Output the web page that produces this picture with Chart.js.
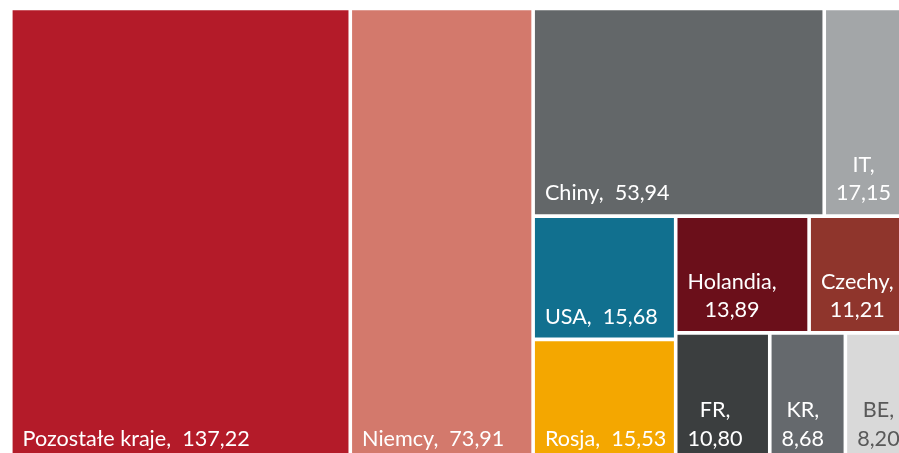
<!DOCTYPE html>
<html>
<head>
<meta charset="utf-8">
<script src="https://cdn.jsdelivr.net/npm/chart.js@4.4.1/dist/chart.umd.min.js"></script>
<style>
  html, body { margin: 0; padding: 0; background: #ffffff; overflow: hidden; }
  #wrap { position: relative; width: 930px; height: 475px; }
</style>
</head>
<body>
<div id="wrap"><canvas id="c"></canvas></div>
<script>
// ---- data ----
const countries = ['Pozostałe kraje', 'Niemcy', 'Chiny', 'IT', 'USA', 'Rosja', 'Holandia', 'Czechy', 'FR', 'KR', 'BE'];
const values = [137.22, 73.91, 53.94, 17.15, 15.68, 15.53, 13.89, 11.21, 10.80, 8.68, 8.20];
// how many consecutive cells form each strip of the treemap
const stripSizes = [1, 1, 2, 2, 2, 1, 1, 1];

// ---- styles ----
const cellColors = ['#B41B29', '#D3796C', '#636769', '#A3A6A8', '#11708F', '#F4A700', '#6B0F1A', '#8F352C', '#3B3E3F', '#65696D', '#D9D9D9'];
const textColors = ['#FFFFFF', '#FFFFFF', '#FFFFFF', '#FFFFFF', '#FFFFFF', '#FFFFFF', '#FFFFFF', '#FFFFFF', '#FFFFFF', '#FFFFFF', '#595959'];

function fmt(v) { return v.toFixed(2).replace('.', ','); }

// strip treemap layout in normalised [0,1] data units; aspect = pixel width / pixel height
function stripLayout(vals, strips, aspect) {
  let x = 0, y = 0, w = 1, h = 1, idx = 0;
  let remaining = vals.reduce((a, b) => a + b, 0);
  const rects = [];
  for (const n of strips) {
    const items = vals.slice(idx, idx + n);
    const s = items.reduce((a, b) => a + b, 0);
    const frac = s / remaining;
    if (w * aspect >= h) {
      const cw = w * frac; let cy = y;
      items.forEach(v => { const ch = h * v / s; rects.push({ x0: x, x1: x + cw, y0: cy, y1: cy + ch }); cy += ch; });
      x += cw; w -= cw;
    } else {
      const rh = h * frac; let cx = x;
      items.forEach(v => { const cw = w * v / s; rects.push({ x0: cx, x1: cx + cw, y0: y, y1: y + rh }); cx += cw; });
      y += rh; h -= rh;
    }
    remaining -= s; idx += n;
  }
  return rects;
}

class StripTreemapController extends Chart.DatasetController {
  update(mode) {
    const meta = this._cachedMeta;
    this.updateElements(meta.data, 0, meta.data.length, mode);
  }
  updateElements(elements, start, count, mode) {
    const meta = this._cachedMeta;
    const xs = meta.xScale, ys = meta.yScale;
    const aspect = Math.abs(xs.getPixelForValue(1) - xs.getPixelForValue(0)) /
                   Math.abs(ys.getPixelForValue(1) - ys.getPixelForValue(0));
    const rects = stripLayout(this.getDataset().data, stripSizes, aspect);
    for (let i = start; i < start + count; i++) {
      const r = rects[i];
      const left = xs.getPixelForValue(r.x0), right = xs.getPixelForValue(r.x1);
      const top = ys.getPixelForValue(r.y0), bottom = ys.getPixelForValue(r.y1);
      this.updateElement(elements[i], i, {
        x: (left + right) / 2, y: top, base: bottom, width: right - left, height: bottom - top,
        horizontal: false, inflateAmount: 0, borderSkipped: {}, enableBorderRadius: true,
        options: this.resolveDataElementOptions(i, mode)
      }, mode);
    }
  }
}
StripTreemapController.id = 'striptreemap';
StripTreemapController.defaults = { datasetElementType: false, dataElementType: 'bar' };
Chart.register(StripTreemapController);

const FONT = '21.6px Lato';
const PAD_X = 10, PAD_B = 14, LINE = 28.5;

const labelPlugin = {
  id: 'cellLabels',
  afterDatasetsDraw(chart) {
    const ctx = chart.ctx;
    const meta = chart.getDatasetMeta(0);
    const bw = chart.data.datasets[0].borderWidth;
    ctx.save();
    ctx.font = FONT;
    ctx.textBaseline = 'alphabetic';
    ctx.textAlign = 'left';
    meta.data.forEach((el, i) => {
      const p = el.getProps(['x', 'y', 'base', 'width']);
      const left = p.x - p.width / 2 + bw;
      const cellW = p.width - 2 * bw;
      const bottom = Math.max(p.y, p.base) - bw;
      const full = countries[i] + ',  ' + fmt(values[i]);
      let lines = [full];
      if (ctx.measureText(full).width + 5 > cellW) lines = [countries[i] + ',', fmt(values[i])];
      const widths = lines.map(t => ctx.measureText(t).width);
      const bwid = Math.max(...widths);
      ctx.fillStyle = textColors[i];
      lines.forEach((t, k) => {
        const yy = bottom - PAD_B - (lines.length - 1 - k) * LINE;
        ctx.fillText(t, left + PAD_X + (bwid - widths[k]) / 2, yy);
      });
    });
    ctx.restore();
  }
};

new Chart(document.getElementById('c'), {
  type: 'striptreemap',
  data: {
    datasets: [{
      data: values,
      backgroundColor: cellColors,
      borderColor: '#FFFFFF',
      borderWidth: 1.8,
      borderSkipped: false,
      borderRadius: 0
    }]
  },
  options: {
    responsive: true,
    maintainAspectRatio: false,
    animation: false,
    events: [],
    layout: { padding: { left: 10.8, top: 8.5, right: 13.2, bottom: 13.5 } },
    scales: {
      x: { type: 'linear', min: 0, max: 1, display: false },
      y: { type: 'linear', min: 0, max: 1, reverse: true, display: false }
    },
    plugins: { legend: { display: false }, tooltip: { enabled: false }, title: { display: false } }
  },
  plugins: [labelPlugin]
});
</script>
</body>
</html>
